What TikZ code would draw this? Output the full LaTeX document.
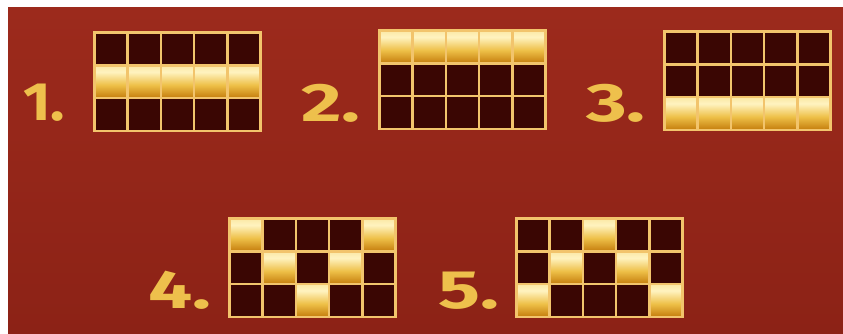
\documentclass[tikz,border=0pt]{standalone}
\usepackage{fontspec}
\setmainfont{Fira Sans}
\usepackage{tikz}
\usepackage{xcolor}
\usetikzlibrary{positioning}

\definecolor{bgred}{HTML}{9C2A1C}
\definecolor{bgredlow}{HTML}{8C2216}
\definecolor{darkcell}{HTML}{3A0603}
\definecolor{gridgold}{HTML}{F2C46C}
\definecolor{labgold}{HTML}{EEC04C}
\definecolor{goldA}{HTML}{E0A030}
\definecolor{goldB}{HTML}{C47C0C}
\definecolor{goldC}{HTML}{EEC048}
\definecolor{goldD}{HTML}{FFF3C0}
\definecolor{goldE}{HTML}{F6DC88}
\definecolor{goldF}{HTML}{F0CC70}
\pgfdeclareverticalshading{goldbar}{100bp}{color(0bp)=(goldA); color(25bp)=(goldB); color(45bp)=(goldC); color(65bp)=(goldD); color(85bp)=(goldE); color(100bp)=(goldF)}
\newcommand{\widelab}[2][1.45]{\scalebox{#1}[1]{#2}}

\begin{document}
\begin{tikzpicture}[x=1pt,y=-1pt,
 cellbox/.style={draw=gridgold,line width=2.6pt,inner sep=0pt,outer sep=0pt,minimum width=33.2pt,minimum height=32.8pt},
 darkcell/.style={fill=darkcell},
 goldcell/.style={shade,shading=goldbar},
 cell/.code={\ifnum#1=1 \pgfkeysalso{goldcell}\else\pgfkeysalso{darkcell}\fi},
 lab/.style={text=labgold,font=\fontsize{54}{54}\selectfont\bfseries,inner sep=0pt}]
 \useasboundingbox (0,0) rectangle (843,334);
 \shade[top color=bgred,bottom color=bgredlow] (8,8) rectangle (843,334);
 % the five line patterns
 \foreach \g/\gx/\gy/\pat in {
   1/94.5/32.5/{{0,0,0,0,0},{1,1,1,1,1},{0,0,0,0,0}},
   2/379.5/30.5/{{1,1,1,1,1},{0,0,0,0,0},{0,0,0,0,0}},
   3/664.5/31.5/{{0,0,0,0,0},{0,0,0,0,0},{1,1,1,1,1}},
   4/229.5/218.5/{{1,0,0,0,1},{0,1,0,1,0},{0,0,1,0,0}},
   5/516.5/218.5/{{0,0,1,0,0},{0,1,0,1,0},{1,0,0,0,1}}}
 {
   \foreach \row [count=\r] in \pat
     \foreach \v [count=\c] in \row
       \node[cellbox,cell=\v] (g\g-\r-\c) at ({\gx+(\c-0.5)*33.2},{\gy+(\r-0.5)*32.8}) {};
 }
 \node[lab] (lab1) at (44,103) {\widelab[1.1]{1.}};
 \node[lab] (lab2) at (331,103) {\widelab{2.}};
 \node[lab] (lab3) at (616,103) {\widelab{3.}};
 \node[lab] (lab4) at (180,290) {\widelab{4.}};
 \node[lab] (lab5) at (469,291) {\widelab{5.}};
\end{tikzpicture}
\end{document}
